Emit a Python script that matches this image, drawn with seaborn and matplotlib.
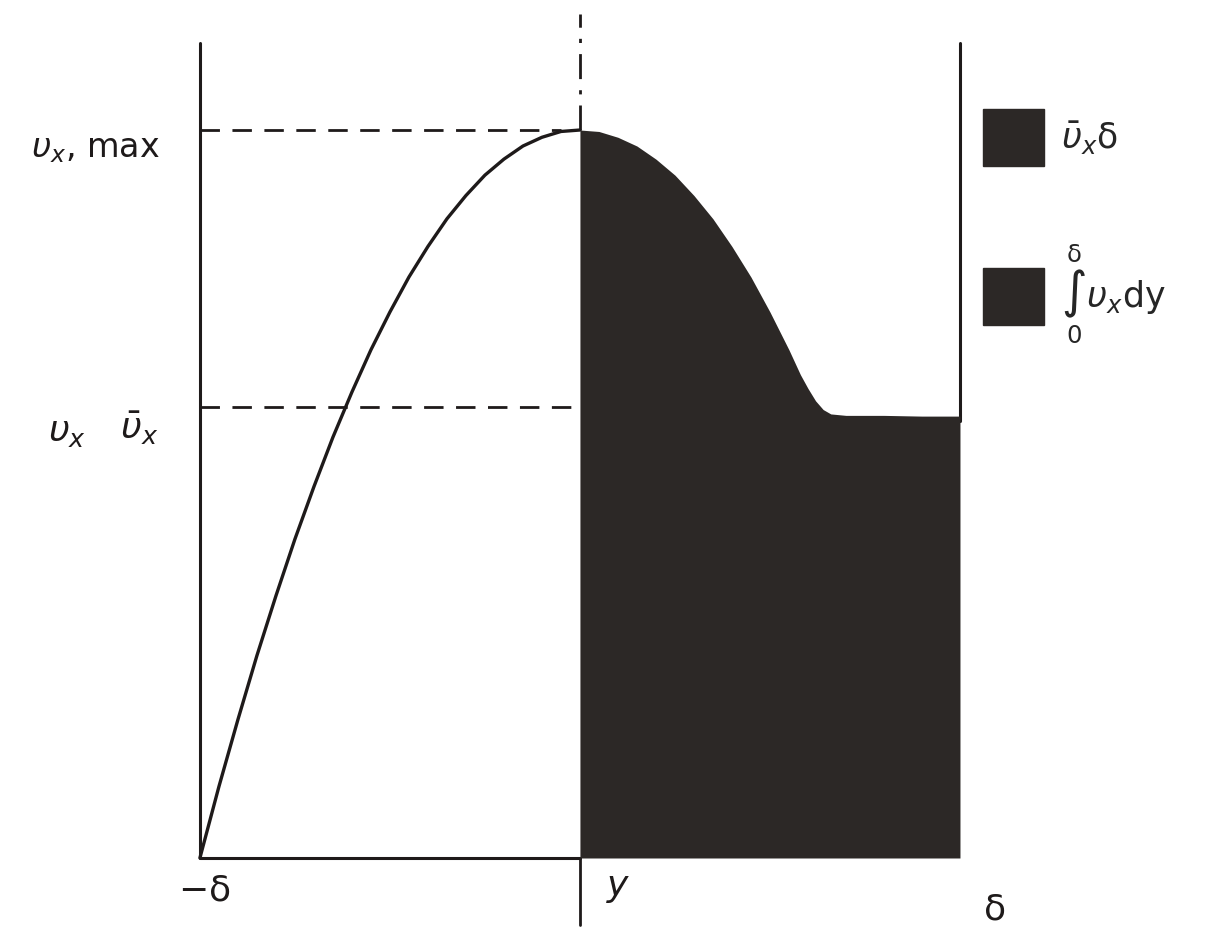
import matplotlib
matplotlib.use("Agg")
import matplotlib.pyplot as plt
from matplotlib.patches import Patch
import seaborn as sns
import pandas as pd

# velocity profile (y / delta, v_x / v_x,max)
y_left = [-1.00, -0.95, -0.90, -0.85, -0.80, -0.75, -0.70, -0.65, -0.60, -0.55, -0.50,
          -0.45, -0.40, -0.35, -0.30, -0.25, -0.20, -0.15, -0.10, -0.05, 0.00]
v_left = [0.000, 0.098, 0.190, 0.278, 0.360, 0.438, 0.510, 0.578, 0.640, 0.698, 0.750,
          0.798, 0.840, 0.878, 0.910, 0.938, 0.960, 0.978, 0.990, 0.998, 1.000]
y_right = [0.00, 0.05, 0.10, 0.15, 0.20, 0.25, 0.30, 0.35, 0.40, 0.45, 0.50, 0.55,
           0.58, 0.60, 0.62, 0.64, 0.66, 0.70, 0.80, 0.90, 1.00]
v_right = [1.000, 0.998, 0.990, 0.978, 0.960, 0.938, 0.910, 0.878, 0.840, 0.798, 0.750, 0.698,
           0.664, 0.645, 0.628, 0.616, 0.610, 0.608, 0.608, 0.607, 0.607]
v_mean = 0.62
v_max = 1.0

dark = "#2c2826"
ink = "#1e1a1a"

sns.set_theme(style="white")
plt.rcParams["mathtext.fontset"] = "dejavusans"

fig = plt.figure(figsize=(12.26, 9.42), dpi=100)
ax = fig.add_axes([0, 0, 1, 1])
ax.set_xlim(-1.526, 1.70)
ax.set_ylim(-0.1154, 1.1786)
ax.set_axis_off()

# profile on the left half
df_left = pd.DataFrame({"y": y_left, "v": v_left})
sns.lineplot(data=df_left, x="y", y="v", color=ink, lw=2.4, sort=False, estimator=None, ax=ax)

# shaded area on the right half
ax.fill_between(y_right, 0, v_right, color=dark, lw=0, zorder=3)

# frame lines
ax.plot([-1, -1], [0, 1.12], color=ink, lw=2.2)
ax.plot([-1, 0], [0, 0], color=ink, lw=2.2)
ax.plot([1, 1], [0.6, 1.12], color=ink, lw=2.2)
ax.plot([0, 0], [0, -0.092], color=ink, lw=2.0)
ax.plot([0, 0], [v_max, 1.16], color=ink, lw=2.0, linestyle=(0, (9, 4, 1.5, 4)))

# reference dashed lines
ax.plot([-1, -0.05], [v_max, v_max], color=ink, lw=2.0, linestyle=(0, (7, 4.5)))
ax.plot([-1, 0], [v_mean, v_mean], color=ink, lw=2.0, linestyle=(0, (7, 4.5)))

# labels
ax.text(-1.105, 0.975, r"$\upsilon_x$, max", ha="right", va="center", fontsize=24, color=ink)
ax.text(-1.35, 0.585, r"$\upsilon_x$", ha="center", va="center", fontsize=26, color=ink)
ax.text(-1.11, 0.59, r"$\bar{\upsilon}_x$", ha="right", va="center", fontsize=26, color=ink)
ax.text(-0.99, -0.044, r"$-\mathrm{\delta}$", ha="center", va="center", fontsize=26, color=ink)
ax.text(0.1, -0.041, r"$y$", ha="center", va="center", fontsize=26, color=ink)
ax.text(1.09, -0.071, r"$\mathrm{\delta}$", ha="center", va="center", fontsize=26, color=ink)

handles = [Patch(facecolor=dark, edgecolor=dark), Patch(facecolor=dark, edgecolor=dark)]
labels = [r"$\bar{\upsilon}_x\mathrm{\delta}$",
          r"$\underset{0}{\overset{\mathrm{\delta}}{\int}}\upsilon_x \mathrm{dy}$"]
ax.legend(handles, labels, loc="upper left", bbox_to_anchor=(966 / 1226, 1 - 92 / 942),
          frameon=False, fontsize=25, handlelength=1.75, handleheight=2.15,
          labelspacing=2.2, handletextpad=0.5, borderpad=0)

fig.savefig("out.png", dpi=100, facecolor="white")
plt.close(fig)
